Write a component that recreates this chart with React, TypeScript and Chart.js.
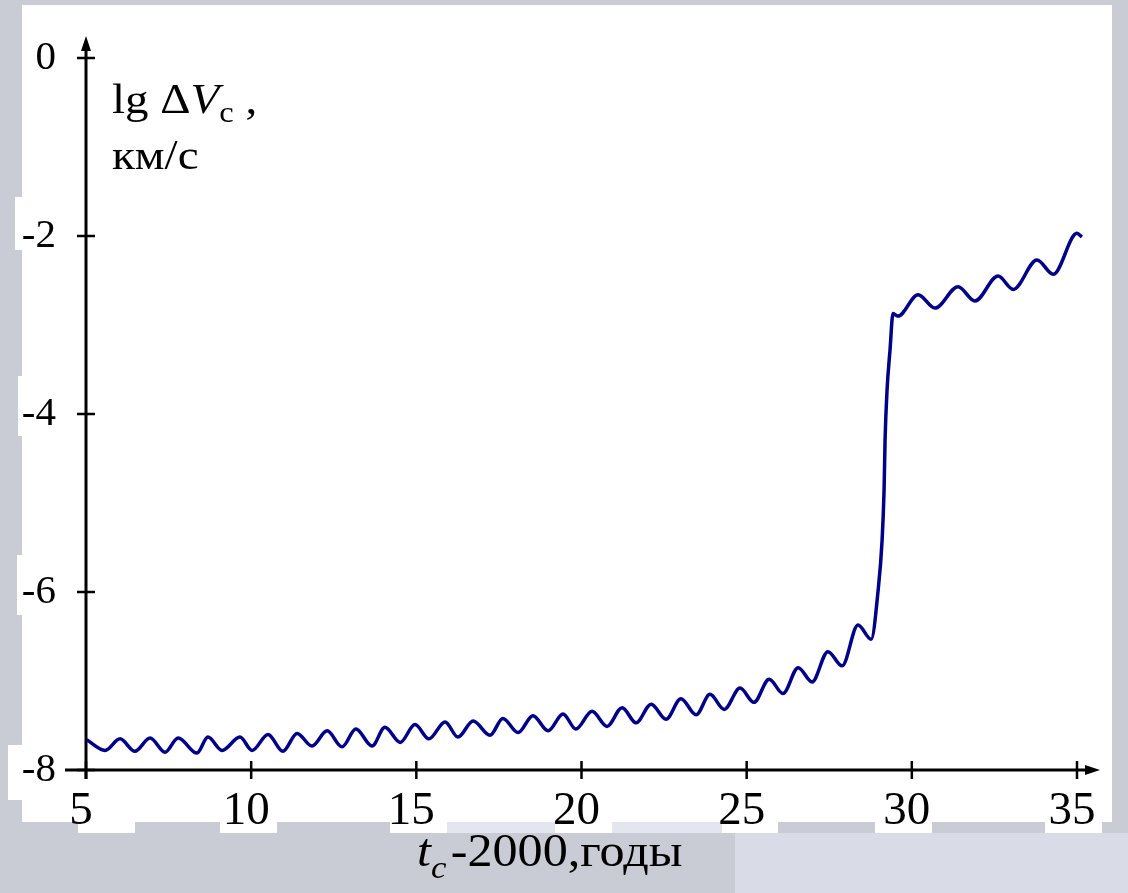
import React, { useEffect, useRef } from 'react';
import { Chart, registerables } from 'chart.js';

Chart.register(...registerables);

// t_c - 2000, years
const years = [
  5.02, 5.58, 6.03, 6.48, 6.94, 7.39, 7.79, 8.36, 8.69, 9.12,
  9.66, 10.03, 10.51, 10.96, 11.39, 11.84, 12.3, 12.75, 13.17, 13.66,
  14.05, 14.51, 14.96, 15.38, 15.87, 16.26, 16.72, 17.23, 17.62, 18.08,
  18.53, 18.99, 19.44, 19.83, 20.32, 20.77, 21.23, 21.65, 22.11, 22.56,
  23.01, 23.47, 23.89, 24.32, 24.8, 25.22, 25.68, 26.1, 26.56, 26.98,
  27.46, 27.89, 28.37, 28.77, 28.98, 29.1, 29.16, 29.19, 29.25, 29.34,
  29.43, 29.58, 30.19, 30.7, 31.4, 31.91, 32.61, 33.07, 33.79, 34.28,
  35.0, 35.15,
];

// lg ΔV_c, km/s
const lgDV = [
  -7.66, -7.78, -7.65, -7.79, -7.64, -7.8, -7.64, -7.81, -7.63, -7.78,
  -7.63, -7.78, -7.6, -7.79, -7.59, -7.73, -7.56, -7.74, -7.54, -7.73,
  -7.52, -7.69, -7.49, -7.65, -7.46, -7.63, -7.45, -7.61, -7.42, -7.58,
  -7.39, -7.56, -7.37, -7.54, -7.34, -7.51, -7.3, -7.47, -7.26, -7.43,
  -7.2, -7.38, -7.15, -7.32, -7.08, -7.24, -6.98, -7.14, -6.85, -7.01,
  -6.67, -6.83, -6.37, -6.53, -5.98, -5.42, -4.85, -4.29, -3.73, -3.28,
  -2.87, -2.9, -2.66, -2.81, -2.57, -2.73, -2.45, -2.6, -2.27, -2.43,
  -1.97, -2.01,
];

const xTicks = [5, 10, 15, 20, 25, 30, 35];
const yTicks = [0, -2, -4, -6, -8];

const SERIF = '"Liberation Serif", "Times New Roman", serif';

// Backdrop: grey-blue field with white panels behind the plot and labels.
const backdropPlugin = {
  id: 'backdrop',
  beforeDraw(chart: any) {
    const { ctx, width, height } = chart;
    ctx.save();
    ctx.fillStyle = '#c9ccd5';
    ctx.fillRect(0, 0, width, height);
    ctx.fillStyle = '#d9dbe6';
    ctx.fillRect(735, 833, width - 735, height - 833);
    ctx.fillStyle = '#e3e5ef';
    ctx.fillRect(447, 822, 275, 11);
    ctx.fillStyle = '#ffffff';
    const panels: [number, number, number, number][] = [
      [22, 5, 1090, 817],
      [15, 197, 10, 53],
      [18, 376, 10, 60],
      [17, 555, 10, 60],
      [8, 745, 16, 55],
      [78, 822, 57, 11],
      [220, 822, 57, 11],
      [390, 822, 57, 11],
      [555, 822, 57, 11],
      [722, 822, 56, 11],
      [875, 822, 57, 11],
      [1045, 822, 57, 11],
    ];
    panels.forEach(([x, y, w, h]) => ctx.fillRect(x, y, w, h));
    ctx.restore();
  },
};

// Axis lines with crossing ticks and arrow heads.
const axesPlugin = {
  id: 'arrowAxes',
  beforeDatasetsDraw(chart: any) {
    const { ctx } = chart;
    const xs = chart.scales.x;
    const ys = chart.scales.y;
    const x0 = xs.getPixelForValue(xTicks[0]);
    const y0 = ys.getPixelForValue(yTicks[yTicks.length - 1]);
    const yTop = ys.getPixelForValue(yTicks[0]);
    const xEnd = xs.getPixelForValue(xTicks[xTicks.length - 1]);
    ctx.save();
    ctx.strokeStyle = '#000';
    ctx.fillStyle = '#000';
    ctx.lineCap = 'butt';
    ctx.lineWidth = 3;
    ctx.beginPath();
    ctx.moveTo(x0, y0 + 9);
    ctx.lineTo(x0, yTop - 10);
    ctx.moveTo(x0 - 21, y0);
    ctx.lineTo(xEnd + 10, y0);
    ctx.stroke();
    // arrow heads
    ctx.beginPath();
    ctx.moveTo(x0, yTop - 22);
    ctx.lineTo(x0 - 5, yTop - 7);
    ctx.lineTo(x0 + 5, yTop - 7);
    ctx.closePath();
    ctx.fill();
    ctx.beginPath();
    ctx.moveTo(xEnd + 23, y0);
    ctx.lineTo(xEnd + 8, y0 - 5);
    ctx.lineTo(xEnd + 8, y0 + 5);
    ctx.closePath();
    ctx.fill();
    // ticks
    ctx.lineWidth = 2.5;
    ctx.beginPath();
    yTicks.forEach((v) => {
      const py = ys.getPixelForValue(v);
      ctx.moveTo(x0 - 9, py);
      ctx.lineTo(x0 + 9, py);
    });
    xTicks.forEach((v) => {
      const px = xs.getPixelForValue(v);
      ctx.moveTo(px, y0 - 9);
      ctx.lineTo(px, y0 + 9);
    });
    ctx.stroke();
    ctx.restore();
  },
};

// Axis titles with italic and subscript parts.
type Run = { text: string; italic?: boolean; sub?: boolean; gap?: number };

function drawRuns(
  ctx: CanvasRenderingContext2D,
  runs: Run[],
  x: number,
  y: number,
  size: number,
  subSize: number,
  subDrop: number,
  stretch: number,
) {
  ctx.save();
  ctx.translate(x, y);
  ctx.scale(stretch, 1);
  let cx = 0;
  runs.forEach((r) => {
    cx += r.gap || 0;
    const s = r.sub ? subSize : size;
    ctx.font = `${r.italic ? 'italic ' : ''}${s}px ${SERIF}`;
    ctx.fillText(r.text, cx, r.sub ? subDrop : 0);
    cx += ctx.measureText(r.text).width;
  });
  ctx.restore();
}

const titlesPlugin = {
  id: 'axisTitles',
  afterDraw(chart: any) {
    const { ctx } = chart;
    ctx.save();
    ctx.fillStyle = '#000';
    ctx.textBaseline = 'alphabetic';
    ctx.textAlign = 'left';
    drawRuns(ctx, [
      { text: 'lg \u0394' },
      { text: 'V', italic: true },
      { text: 'c', sub: true },
      { text: ' ,' },
    ], 112, 113, 42, 29, 9, 1.12);
    drawRuns(ctx, [{ text: 'км/с' }], 112, 169, 42, 29, 9, 1.12);
    drawRuns(ctx, [
      { text: 't', italic: true },
      { text: 'c', italic: true, sub: true },
      { text: '-2000,годы', gap: 4 },
    ], 417, 866, 46, 32, 12, 1.09);
    ctx.restore();
  },
};

export default function App() {
  const canvasRef = useRef<HTMLCanvasElement | null>(null);

  useEffect(() => {
    const canvas = canvasRef.current;
    if (!canvas) return;
    const chart = new Chart(canvas, {
      type: 'line',
      data: {
        datasets: [
          {
            data: years.map((x, i) => ({ x, y: lgDV[i] })),
            borderColor: '#000088',
            borderWidth: 3.5,
            pointRadius: 0,
            cubicInterpolationMode: 'monotone',
            clip: false as any,
          },
        ],
      },
      options: {
        animation: false,
        responsive: false,
        devicePixelRatio: 1,
        layout: { padding: { left: 0, top: 58, right: 44.4, bottom: 0 } },
        plugins: { legend: { display: false }, tooltip: { enabled: false } },
        scales: {
          x: {
            type: 'linear',
            min: 5,
            max: 35.2,
            afterBuildTicks: (s: any) => {
              s.ticks = xTicks.map((value) => ({ value }));
            },
            afterFit: (s: any) => {
              s.height = 123;
            },
            grid: { display: false, drawTicks: false },
            border: { display: false },
            ticks: {
              color: '#000',
              font: { family: SERIF, size: 47 },
              padding: 13,
              labelOffset: -5,
              maxRotation: 0,
            },
          },
          y: {
            type: 'linear',
            min: -8,
            max: 0,
            afterBuildTicks: (s: any) => {
              s.ticks = yTicks.map((value) => ({ value }));
            },
            afterFit: (s: any) => {
              s.width = 86;
            },
            grid: { display: false, drawTicks: false },
            border: { display: false },
            ticks: {
              color: '#000',
              font: { family: SERIF, size: 41 },
              padding: 30,
            },
          },
        },
      },
      plugins: [backdropPlugin, axesPlugin, titlesPlugin],
    });
    return () => chart.destroy();
  }, []);

  return (
    <canvas
      ref={canvasRef}
      width={1128}
      height={893}
      style={{ position: 'fixed', left: 0, top: 0, display: 'block' }}
    />
  );
}
